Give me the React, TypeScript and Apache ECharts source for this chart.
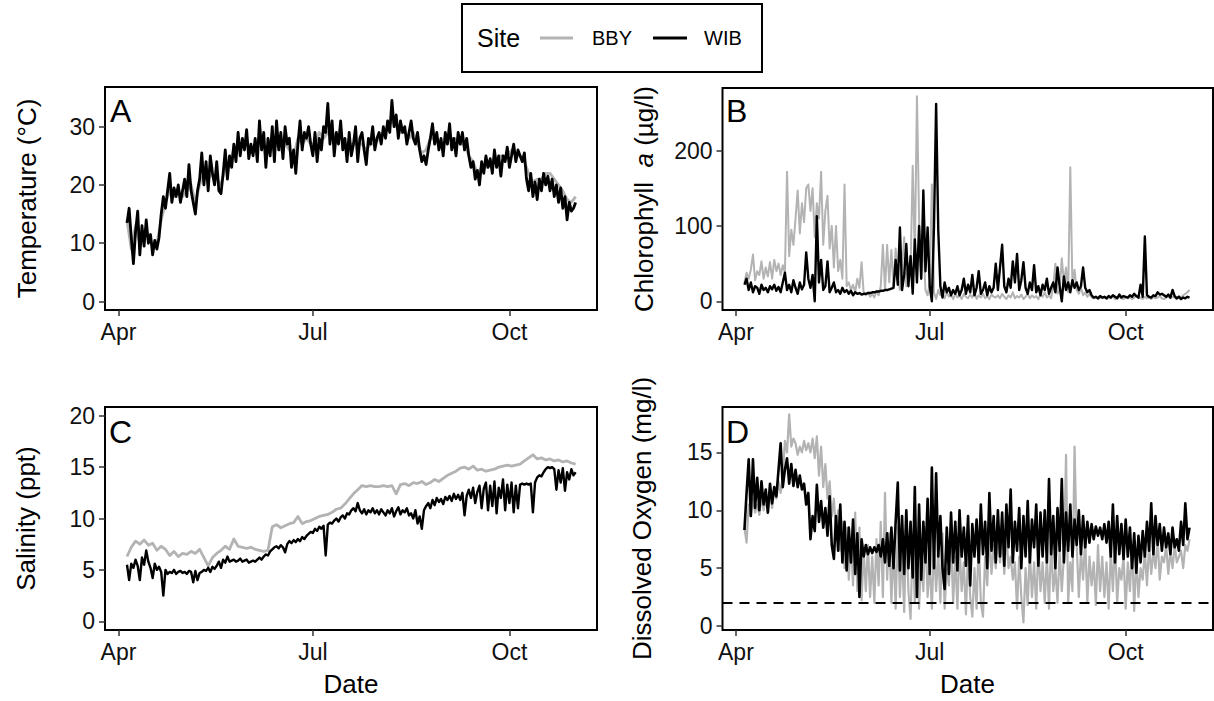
import React, { useEffect, useRef } from "react";
import * as echarts from "echarts";

// x = days since 1 April
const monthTicks = [0, 91, 183];
const monthLabels = ["Apr", "Jul", "Oct"];
const siteNames = ["BBY", "WIB"];

// Temperature (°C)
const tempWIBStart = 4;
const tempWIB = [
  13.5, 16, 11, 6.5, 12, 15.5, 8, 13, 9.5, 14,
  10, 11.5, 8, 10.5, 9, 11, 15, 18, 16, 19,
  22, 17, 19.5, 18, 20, 17, 19, 21, 18, 23.5,
  19, 17, 15, 19, 21, 25.5, 20, 24, 19, 25,
  22, 20, 24, 19, 18.5, 22, 26, 21, 25, 23,
  27, 24, 29, 25, 28, 26, 29.5, 24.5, 27, 25,
  28, 24, 31, 26, 29, 23, 28, 25, 30, 24,
  31, 26, 29, 24.5, 30, 27, 28, 23, 26, 22,
  27, 31, 26, 29, 28, 30, 27, 25, 29, 24,
  28, 26, 30, 29, 34, 27, 31, 25, 29, 27,
  31, 26, 28, 24, 29, 25, 27, 30, 24, 28,
  29, 26, 23.5, 28, 27, 30, 26, 28, 29, 27,
  30, 28, 31, 29, 34.5, 30, 32, 28, 31, 29,
  30, 27, 29, 31, 28, 27, 29, 26, 24, 25,
  23.5, 26, 28, 30.5, 27, 29, 26, 28, 25, 29,
  27, 30.5, 26, 28, 25, 29, 27, 29, 26, 28,
  25, 23, 24, 21, 22.5, 20, 24, 22, 25, 23,
  24.5, 22, 26, 23, 25, 21.5, 25, 24, 26.5, 23,
  25, 27, 24, 26, 25, 24, 25.5, 21, 19, 22,
  18, 20.5, 17.5, 21, 19, 22, 20, 21.5, 19, 21,
  18, 20, 17, 19.5, 16, 18, 14, 17, 15.5, 16,
  17,
];
const tempBBYStart = 4;
const tempBBYStep = 2;
const tempBBY = [
  14, 9, 13, 10, 12, 11, 10, 10, 14, 17,
  19, 18, 19, 18, 19, 20, 17, 20, 22, 21,
  22, 21, 20, 23, 24, 26, 27, 27, 27, 26,
  26, 27, 27, 26, 26, 27, 26, 27, 26, 25,
  28, 27, 28, 27, 27, 29, 28, 29, 29, 28,
  28, 27, 27, 27, 27, 27, 26, 27, 27, 28,
  29, 30, 31, 30, 29, 29, 28, 29, 27, 25.5,
  26, 28, 28, 27, 27, 28, 28, 28, 27, 27,
  25, 24, 22, 23, 23, 24, 24, 25, 25, 25,
  26, 25, 25, 24, 22, 20.5, 21, 21, 22, 22,
  21, 20, 19, 17.5, 17, 18,
];

// Chlorophyll a (µg/l)
const chlStart = 4;
const chlBBY = [
  25, 38, 30, 42, 62, 28, 40, 35, 53, 30,
  45, 33, 52, 30, 55, 40, 50, 35, 48, 38,
  172, 60, 95, 75, 110, 147, 90, 130, 105, 150,
  155, 120, 150, 85, 130, 110, 172, 75, 120, 140,
  70, 100, 45, 100, 40, 55, 30, 155, 20, 25,
  15, 22, 12, 30, 18, 52, 10, 8, 12, 6,
  10, 5, 14, 8, 20, 75, 15, 75, 25, 68,
  20, 70, 30, 15, 45, 85, 20, 50, 40, 180,
  60, 272, 110, 30, 80, 15, 8, 25, 155, 12,
  3, 15, 8, 10, 4, 12, 6, 8, 3, 10,
  5, 8, 3, 10, 6, 4, 9, 5, 12, 3,
  8, 5, 10, 4, 7, 3, 9, 6, 5, 8,
  4, 10, 6, 3, 8, 5, 12, 4, 7, 5,
  9, 3, 6, 10, 4, 8, 5, 7, 3, 9,
  6, 12, 5, 8, 4, 20, 50, 10, 15, 57,
  25, 45, 12, 178, 20, 42, 15, 10, 18, 8,
  12, 6, 10, 5, 4, 6, 3, 5, 4, 6,
  3, 5, 4, 7, 3, 5, 6, 4, 3, 5,
  4, 6, 3, 5, 7, 4, 5, 3, 6, 4,
  5, 3, 6, 4, 5, 7, 4, 3, 5, 6,
  4, 6, 5, 3, 7, 5, 8, 10, 12, 15,
];
const chlWIB = [
  22, 30, 15, 25, 12, 20, 18, 10, 22, 15,
  18, 12, 20, 16, 22, 14, 19, 12, 25, 38,
  15, 22, 12, 28, 18, 10, 25, 16, 22, 65,
  30, 18, 35, 0, 113, 25, 55, 15, 20, 53,
  12, 18, 25, 12, 15, 10, 18, 12, 15, 10,
  14, 8, 12, 10, 11, 9, 10, 10, 11, 11,
  12, 12, 13, 13, 14, 14, 15, 15, 16, 17,
  18, 55, 22, 98, 15, 35, 76, 20, 60, 10,
  82, 25, 100, 30, 147, 40, 98, 20, 0, 100,
  262, 95, 20, 5, 25, 12, 18, 8, 15, 10,
  20, 8, 15, 30, 10, 22, 12, 35, 8, 18,
  40, 10, 15, 25, 8, 20, 12, 18, 50, 15,
  45, 75, 20, 12, 30, 18, 53, 25, 63, 15,
  28, 52, 18, 10, 25, 15, 48, 12, 20, 8,
  22, 15, 30, 10, 18, 25, 12, 45, 20, 0,
  33, 15, 25, 12, 28, 18, 25, 15, 20, 45,
  18, 12, 15, 8, 5, 6, 4, 7, 5, 6,
  4, 7, 5, 8, 6, 4, 9, 5, 7, 6,
  5, 8, 6, 10, 7, 5, 22, 6, 86, 8,
  6, 5, 8, 7, 12, 9, 10, 8, 6, 9,
  5, 15, 7, 4, 6, 3, 5, 4, 6, 5,
];

// Salinity (ppt)
const salBBYStart = 4;
const salBBYStep = 2;
const salBBY = [
  6.3, 7.2, 7.8, 7.5, 7.9, 7.4, 7.6, 6.9, 7.3, 7.0,
  6.4, 6.8, 6.3, 6.6, 6.5, 6.8, 6.6, 7.0, 6.2, 5.4,
  6.2, 6.6, 6.9, 7.3, 7.0, 8.0, 7.3, 7.2, 7.1, 7.2,
  7.0, 6.9, 6.8, 6.9, 9.2, 9.4, 9.1, 9.3, 9.5, 9.6,
  10.2, 9.5, 9.7, 9.8, 10.0, 10.2, 10.3, 10.4, 10.6, 10.9,
  11.0, 11.4, 11.9, 12.4, 12.8, 13.2, 13.1, 13.2, 13.1, 13.1,
  13.2, 13.1, 13.2, 12.4, 13.3, 13.4, 13.2, 13.5, 13.4, 13.6,
  13.3, 13.5, 13.8, 13.6, 13.9, 14.2, 14.4, 14.6, 14.9, 15.0,
  14.8, 15.1, 14.7, 14.8, 14.6, 14.7, 14.8, 15.0, 15.1, 15.2,
  15.1, 15.2, 15.3, 15.6, 15.9, 16.2, 15.8, 15.9, 15.7, 15.8,
  15.6, 15.7, 15.5, 15.6, 15.4, 15.3,
];
const salWIBStart = 4;
const salWIB = [
  5.5, 4.0, 5.6, 5.2, 6.0, 5.4, 4.0, 6.2, 5.5, 6.9,
  5.8, 5.2, 4.2, 5.6, 5.0, 5.3, 4.8, 2.5, 5.0, 4.6,
  4.8, 4.7, 5.0, 4.6, 4.8, 4.9, 4.7, 4.8, 4.6, 4.9,
  4.8, 3.8, 4.9, 4.0, 4.7, 4.8, 5.0, 4.9, 5.2, 4.8,
  5.3, 5.1, 5.4, 5.8, 5.2, 6.0, 5.7, 6.3, 5.8, 5.9,
  6.0, 5.8, 5.9, 6.1, 5.8, 5.9, 6.0, 5.7, 5.8, 5.9,
  5.8, 6.0, 6.2, 6.0, 6.3, 6.5, 6.4, 6.8, 7.0, 7.2,
  7.3, 7.1, 7.4, 7.2, 6.7, 7.5, 7.8, 7.6, 7.9, 7.7,
  8.0, 7.8, 8.2, 8.0, 8.3, 8.5, 8.7, 8.6, 9.0, 8.8,
  9.2, 9.0, 9.3, 6.4, 9.4, 9.6, 9.5, 9.8, 10.0, 9.7,
  10.1, 10.3, 10.0, 10.5, 10.4, 10.8, 11.0, 10.7, 11.5, 10.8,
  10.5, 10.9, 10.4, 10.8, 10.6, 11.0, 10.5, 10.8, 10.4, 10.9,
  10.6, 10.3, 10.8, 10.5, 11.0, 10.2, 10.7, 11.1, 10.4, 10.8,
  10.6, 11.0, 10.3, 10.5, 10.0, 10.8, 9.5, 10.2, 9.0, 10.8,
  11.2, 11.5, 11.0, 11.8, 11.3, 12.0, 11.6, 11.9, 11.4, 12.1,
  11.8, 12.2, 11.7, 12.4, 11.9, 12.3, 11.8, 12.5, 10.3, 12.2,
  12.8, 12.0, 13.0, 11.5, 12.6, 13.2, 11.0, 12.9, 13.5, 10.8,
  13.2, 11.2, 13.6, 10.5, 13.0, 12.0, 13.8, 10.8, 13.3, 11.5,
  13.5, 10.6, 13.2, 11.0, 13.3, 13.4, 13.3, 13.4, 13.3, 13.4,
  10.6, 13.5, 14.0, 14.2, 14.1, 14.5, 14.8, 15.0, 14.9, 15.0,
  14.8, 12.8, 14.7, 13.5, 14.9, 12.7, 14.5, 13.8, 14.8, 14.2,
  14.5,
];

// Dissolved oxygen (mg/l)
const doStart = 4;
const doBBY = [
  8.5, 7.2, 10.5, 9.5, 11.0, 9.8, 10.5, 9.6, 11.2, 10.0,
  11.0, 9.8, 11.5, 10.2, 11.8, 11.0, 12.5, 11.5, 13.0, 16.0,
  15.0, 18.3, 15.5, 16.2, 15.8, 14.8, 15.5, 15.0, 16.0, 15.2,
  15.8, 15.0, 16.2, 14.5, 16.4, 13.0, 15.5, 12.0, 14.0, 11.0,
  12.5, 9.5, 11.0, 8.0, 10.0, 6.5, 9.0, 5.0, 8.5, 4.0,
  7.5, 3.5, 9.8, 3.0, 8.5, 2.2, 6.5, 3.0, 7.0, 2.5,
  6.0, 2.0, 7.5, 3.5, 9.0, 2.5, 11.5, 4.0, 8.0, 2.0,
  7.0, 1.5, 8.5, 2.5, 6.5, 1.2, 9.0, 3.0, 0.6, 7.5,
  2.0, 8.0, 1.5, 6.0, 3.0, 8.5, 2.5, 5.5, 1.5, 7.0,
  3.0, 6.5, 2.0, 8.0, 1.5, 5.0, 3.5, 7.5, 2.0, 6.0,
  1.5, 7.0, 3.0, 5.5, 1.0, 6.5, 2.5, 0.8, 5.0, 1.5,
  7.5, 2.0, 0.8, 6.0, 3.5, 8.0, 4.5, 7.0, 5.0, 8.5,
  5.5, 7.5, 4.5, 8.0, 5.0, 6.0, 4.0, 5.5, 1.5, 6.0,
  2.5, 0.3, 5.0, 1.8, 6.5, 2.5, 5.5, 1.5, 7.0, 3.0,
  5.5, 2.0, 6.0, 1.5, 7.5, 3.0, 5.0, 2.0, 6.5, 3.0,
  6.0, 14.8, 2.0, 5.5, 3.0, 15.5, 7.0, 2.5, 6.5, 4.0,
  7.5, 2.0, 6.0, 3.5, 5.5, 1.8, 7.0, 3.0, 6.0, 2.5,
  5.5, 1.5, 6.5, 3.0, 7.5, 2.0, 5.0, 4.0, 6.0, 1.5,
  5.5, 3.0, 7.0, 1.3, 6.0, 2.5, 5.0, 4.0, 6.5, 3.5,
  7.0, 4.5, 6.5, 5.0, 7.5, 4.0, 6.0, 5.5, 7.0, 4.5,
  6.5, 5.0, 7.0, 5.5, 6.0, 6.5, 5.0, 7.0, 6.5, 7.5,
];
const doWIB = [
  8.3, 11.5, 14.4, 9.5, 14.4, 10.2, 12.8, 10.0, 12.5, 10.5,
  11.8, 9.8, 12.3, 10.6, 12.0, 11.2, 13.5, 15.8, 12.0, 13.5,
  14.5, 12.3, 14.0, 12.1, 13.5, 12.0, 13.0, 11.8, 12.3, 10.5,
  11.5, 7.5, 9.5, 8.2, 12.2, 9.0, 10.8, 8.5, 10.2, 7.8,
  11.2, 7.0, 5.8, 9.5, 6.5, 10.5, 5.5, 9.0, 4.8, 8.5,
  5.5, 9.2, 4.5, 8.0, 2.5, 7.5, 6.0, 7.0, 6.2, 6.8,
  6.3, 6.8, 6.4, 7.0, 6.0, 7.5, 5.5, 8.0, 5.2, 8.5,
  5.0, 9.0, 12.4, 4.8, 9.5, 4.5, 10.0, 5.0, 9.0, 4.2,
  12.0, 2.5, 10.5, 4.0, 9.0, 5.5, 11.0, 4.5, 13.7, 5.0,
  13.2, 6.0, 9.5, 5.0, 3.2, 8.5, 4.5, 9.8, 5.5, 9.0,
  4.8, 10.0, 6.0, 8.5, 5.2, 9.5, 3.5, 8.8, 6.0, 9.2,
  5.5, 10.5, 6.2, 9.0, 5.0, 11.5, 6.5, 9.5, 5.5, 10.0,
  6.0, 9.8, 5.2, 10.5, 6.8, 11.8, 5.5, 9.0, 6.5, 10.2,
  5.0, 9.5, 6.0, 10.8, 5.5, 9.2, 6.8, 10.5, 5.2, 9.8,
  6.0, 10.0, 5.5, 12.7, 6.2, 9.5, 5.0, 10.2, 6.5, 12.7,
  5.5, 9.8, 6.5, 10.5, 6.0, 9.2, 7.0, 10.0, 6.2, 9.5,
  6.8, 9.0, 7.2, 8.8, 7.5, 8.6, 7.8, 8.5, 7.5, 8.8,
  7.2, 9.0, 6.0, 10.5, 5.5, 9.5, 6.2, 8.8, 5.8, 9.2,
  6.0, 8.5, 5.0, 8.0, 4.6, 7.8, 5.5, 8.2, 6.0, 9.0,
  6.5, 10.6, 6.2, 9.5, 7.0, 8.8, 6.5, 8.5, 6.8, 8.0,
  6.2, 8.5, 6.8, 7.5, 6.5, 9.0, 7.0, 10.6, 7.5, 8.5,
];
const hypoxiaThreshold = 2;

const xMin = -6.3;
const xMax = 224;
const yTicksA = [0, 10, 20, 30];
const yTicksB = [0, 100, 200];
const yTicksC = [0, 5, 10, 15, 20];
const yTicksD = [0, 5, 10, 15];

const FONT = "'Liberation Sans', Arial, Helvetica, sans-serif";
const GREY = "#b3b3b3";
const BLACK = "#000000";

function toPairs(start: number, step: number, arr: number[]) {
  return arr.map((v, i) => [start + i * step, v]);
}

export default function App() {
  const ref = useRef<HTMLDivElement>(null);

  useEffect(() => {
    if (!ref.current) return;
    const chart = echarts.init(ref.current, undefined, { renderer: "svg" });

    const grids = [
      { left: 105, top: 87, width: 492, height: 223 },
      { left: 722.5, top: 88, width: 490.5, height: 222 },
      { left: 105, top: 407, width: 492, height: 223 },
      { left: 722.5, top: 407, width: 490.5, height: 223 },
    ].map((g) => ({
      ...g,
      show: true,
      borderColor: "#000",
      borderWidth: 2,
      backgroundColor: "transparent",
    }));

    const xAxes = [0, 1, 2, 3].map((i) => ({
      type: "value",
      gridIndex: i,
      position: "bottom",
      min: xMin,
      max: xMax,
      axisLine: { show: false, onZero: false },
      splitLine: { show: false },
      axisTick: {
        show: true,
        length: 6,
        customValues: monthTicks,
        lineStyle: { color: "#333", width: 1.5 },
      },
      axisLabel: {
        customValues: monthTicks,
        formatter: (v: number) => monthLabels[monthTicks.indexOf(Math.round(v))] ?? "",
        fontSize: 23,
        color: "#111",
        fontFamily: FONT,
        margin: 10,
      },
    }));

    const yDefs = [
      { min: -1.45, max: 36.8, ticks: yTicksA },
      { min: -11.5, max: 283, ticks: yTicksB },
      { min: -0.85, max: 20.85, ticks: yTicksC },
      { min: -0.35, max: 18.93, ticks: yTicksD },
    ];
    const yAxes = yDefs.map((d, i) => ({
      type: "value",
      gridIndex: i,
      position: "left",
      min: d.min,
      max: d.max,
      axisLine: { show: false, onZero: false },
      splitLine: { show: false },
      axisTick: {
        show: true,
        length: 6,
        customValues: d.ticks,
        lineStyle: { color: "#333", width: 1.5 },
      },
      axisLabel: {
        customValues: d.ticks,
        fontSize: 23,
        color: "#111",
        fontFamily: FONT,
        margin: 10,
      },
    }));

    const line = (name: string, idx: number, data: number[][], color: string, width: number, extra: any = {}) => ({
      name,
      type: "line",
      xAxisIndex: idx,
      yAxisIndex: idx,
      data,
      showSymbol: false,
      symbol: "none",
      silent: true,
      lineStyle: { color, width, join: "round" },
      itemStyle: { color },
      z: color === BLACK ? 3 : 2,
      ...extra,
    });

    const series = [
      line(siteNames[0], 0, toPairs(tempBBYStart, tempBBYStep, tempBBY), GREY, 2.8),
      line(siteNames[1], 0, toPairs(tempWIBStart, 1, tempWIB), BLACK, 2.8),
      line(siteNames[0], 1, toPairs(chlStart, 1, chlBBY), GREY, 2),
      line(siteNames[1], 1, toPairs(chlStart, 1, chlWIB), BLACK, 2.4),
      line(siteNames[0], 2, toPairs(salBBYStart, salBBYStep, salBBY), GREY, 2.8),
      line(siteNames[1], 2, toPairs(salWIBStart, 1, salWIB), BLACK, 2.4),
      line(siteNames[0], 3, toPairs(doStart, 1, doBBY), GREY, 2.2),
      line(siteNames[1], 3, toPairs(doStart, 1, doWIB), BLACK, 2.6, {
        markLine: {
          silent: true,
          symbol: ["none", "none"],
          label: { show: false },
          lineStyle: { color: "#000", type: [10, 7], width: 2 },
          data: [{ yAxis: hypoxiaThreshold }],
        },
      }),
    ];

    const titleStyle = { fill: "#000", fontSize: 26, fontFamily: FONT, align: "center", verticalAlign: "middle" };
    const vTitle = (x: number, y: number, text: string, rich?: any) => ({
      type: "text",
      x,
      y,
      rotation: Math.PI / 2,
      style: rich ? { ...titleStyle, text, rich } : { ...titleStyle, text },
    });
    const letter = (x: number, y: number, text: string) => ({
      type: "text",
      x,
      y,
      style: { text, fill: "#000", fontSize: 32, fontFamily: FONT, align: "left", verticalAlign: "middle" },
    });

    const legendY = 38;
    const graphic = [
      vTitle(27, 198.5, "Temperature (°C)"),
      vTitle(644, 199, "{n|Chlorophyll  }{i|a}{n| (µg/l)}", {
        n: { fontSize: 26, fontFamily: FONT, fill: "#000" },
        i: { fontSize: 26, fontFamily: FONT, fontStyle: "italic", fill: "#000" },
      }),
      vTitle(26, 518.5, "Salinity (ppt)"),
      vTitle(642, 518.5, "Dissolved Oxygen (mg/l)"),
      { type: "text", x: 351, y: 684, style: { ...titleStyle, text: "Date" } },
      { type: "text", x: 967.5, y: 684, style: { ...titleStyle, text: "Date" } },
      letter(110, 111, "A"),
      letter(726, 111, "B"),
      letter(109, 432, "C"),
      letter(726, 432, "D"),
      {
        type: "rect",
        shape: { x: 462, y: 4, width: 300, height: 68 },
        style: { fill: "#fff", stroke: "#000", lineWidth: 2 },
      },
      {
        type: "text",
        x: 477,
        y: legendY,
        style: { text: "Site", fill: "#000", fontSize: 25, fontFamily: FONT, align: "left", verticalAlign: "middle" },
      },
      { type: "line", shape: { x1: 540, y1: legendY, x2: 573, y2: legendY }, style: { stroke: GREY, lineWidth: 3 } },
      {
        type: "text",
        x: 592,
        y: legendY,
        style: { text: siteNames[0], fill: "#000", fontSize: 20, fontFamily: FONT, align: "left", verticalAlign: "middle" },
      },
      { type: "line", shape: { x1: 653, y1: legendY, x2: 687, y2: legendY }, style: { stroke: BLACK, lineWidth: 3 } },
      {
        type: "text",
        x: 704,
        y: legendY,
        style: { text: siteNames[1], fill: "#000", fontSize: 20, fontFamily: FONT, align: "left", verticalAlign: "middle" },
      },
    ];

    chart.setOption({
      animation: false,
      backgroundColor: "#ffffff",
      grid: grids,
      xAxis: xAxes,
      yAxis: yAxes,
      series,
      graphic,
    });

    return () => chart.dispose();
  }, []);

  return (
    <div
      ref={ref}
      style={{ position: "absolute", left: 0, top: 0, width: 1214, height: 701 }}
    />
  );
}
